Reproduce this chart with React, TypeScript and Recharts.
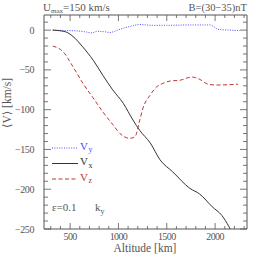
import { LineChart, Line, XAxis, YAxis, Legend } from "recharts";

// altitude [km] / velocity [km/s]
const vxAlt = [320, 450, 530, 630, 740, 840, 940, 1050, 1150, 1220, 1330, 1430, 1560, 1740, 1840, 1970, 2070, 2143, 2165];
const vxVal = [0, -2, -8, -21, -38, -57, -75, -92, -113, -126, -142, -163, -178, -199, -206, -222, -233, -247, -252];

const vyAlt = [320, 450, 570, 650, 726, 780, 850, 912, 970, 1016, 1100, 1223, 1350, 1500, 1710, 1947, 1990, 2030, 2150, 2257];
const vyVal = [0, -0.5, -1, -2, -3.5, -1.5, -2, -3, -1, 1, 4, 7, 6, 6, 6.5, 6.5, 4, 1, 0, -0.5];

const vzAlt = [320, 426, 530, 633, 737, 840, 943, 1016, 1119, 1171, 1223, 1254, 1326, 1398, 1460, 1533, 1636, 1760, 1843, 1926, 2019, 2236];
const vzVal = [-20, -27, -46, -67, -85, -103, -119, -130, -136, -134, -112, -98, -82, -71, -67, -64, -63, -59, -62, -68, -69, -68];

const altTicks = [300, 400, 500, 600, 700, 800, 900, 1000, 1100, 1200, 1300, 1400, 1500, 1600, 1700, 1800, 1900, 2000, 2100, 2200, 2300];
const altLabels = [500, 1000, 1500, 2000];
const vTicks = [-250, -240, -230, -220, -210, -200, -190, -180, -170, -160, -150, -140, -130, -120, -110, -100, -90, -80, -70, -60, -50, -40, -30, -20, -10, 0, 10];
const vLabels = [-250, -200, -150, -100, -50, 0];

const series = [
  { key: "Vy", sub: "y", color: "#4d4dff", dash: "1 1.4", alt: vyAlt, val: vyVal },
  { key: "Vx", sub: "x", color: "#333333", dash: undefined, alt: vxAlt, val: vxVal },
  { key: "Vz", sub: "z", color: "#c03535", dash: "4 2.5", alt: vzAlt, val: vzVal },
];

const toRows = (alt: number[], val: number[]) => alt.map((a, i) => ({ alt: a, v: val[i] }));

const FONT = "'Liberation Serif', 'DejaVu Serif', serif";
const INK = "#555";

const fmt = (v: number) => (v < 0 ? "\u2212" + Math.abs(v) : String(v));

function BottomTick(props: any) {
  const { x, y, payload } = props;
  const major = altLabels.includes(payload.value);
  return (
    <g>
      <line x1={x} y1={y} x2={x} y2={y - (major ? 6 : 3)} stroke={INK} strokeWidth={0.8} />
      {major && (
        <text x={x} y={y + 11} textAnchor="middle" fontSize={10} fontFamily={FONT} fill={INK} letterSpacing={-0.6}>
          {payload.value}
        </text>
      )}
    </g>
  );
}

function TopTick(props: any) {
  const { x, y, payload } = props;
  const major = altLabels.includes(payload.value);
  return <line x1={x} y1={y} x2={x} y2={y + (major ? 6 : 3)} stroke={INK} strokeWidth={0.8} />;
}

function LeftTick(props: any) {
  const { x, y, payload } = props;
  const major = vLabels.includes(payload.value);
  return (
    <g>
      <line x1={x} y1={y} x2={x + (major ? 7 : 4)} y2={y} stroke={INK} strokeWidth={0.8} />
      {major && (
        <text x={x - 10} y={y + 3.5} textAnchor="end" fontSize={10} fontFamily={FONT} fill={INK} letterSpacing={-0.4}>
          {fmt(payload.value)}
        </text>
      )}
    </g>
  );
}

function RightTick(props: any) {
  const { x, y, payload } = props;
  const major = vLabels.includes(payload.value);
  return <line x1={x} y1={y} x2={x - (major ? 7 : 4)} y2={y} stroke={INK} strokeWidth={0.8} />;
}

function LegendBox() {
  return (
    <svg width={60} height={50} style={{ display: "block" }}>
      {series.map((s, i) => {
        const y = 10 + i * 15.5;
        return (
          <g key={s.key}>
            <line x1={2} y1={y} x2={28} y2={y} stroke={s.color} strokeWidth={1} strokeDasharray={s.dash} />
            <text x={30} y={y + 1.5} fontSize={11} fontFamily={FONT} fill={s.color}>V</text>
            <text x={38.5} y={y + 4} fontSize={8} fontFamily={FONT} fill={s.color}>{s.sub}</text>
          </g>
        );
      })}
    </svg>
  );
}

export default function App() {
  return (
    <div style={{ position: "absolute", left: 0, top: 0, width: 258, height: 258, background: "#fff" }}>
      <LineChart width={258} height={258} margin={{ top: 14, right: 10, bottom: 0, left: 0 }}>
        <XAxis
          type="number"
          dataKey="alt"
          domain={[230, 2330]}
          allowDataOverflow
          ticks={altTicks}
          interval={0}
          tickSize={0}
          tickMargin={0}
          height={29}
          tick={BottomTick}
          axisLine={{ stroke: INK }}
        />
        {/* mirrored axes: 1px thick so they are not skipped */}
        <XAxis
          xAxisId="top"
          orientation="top"
          type="number"
          dataKey="alt"
          domain={[230, 2330]}
          allowDataOverflow
          ticks={altTicks}
          interval={0}
          tickSize={0}
          tickMargin={0}
          height={1}
          tick={TopTick}
          axisLine={{ stroke: INK }}
        />
        <YAxis
          type="number"
          domain={[-250, 19]}
          allowDataOverflow
          ticks={vTicks}
          interval={0}
          tickSize={0}
          tickMargin={0}
          width={44}
          tick={LeftTick}
          axisLine={{ stroke: INK }}
        />
        <YAxis
          yAxisId="right"
          orientation="right"
          type="number"
          domain={[-250, 19]}
          allowDataOverflow
          ticks={vTicks}
          interval={0}
          tickSize={0}
          tickMargin={0}
          width={1}
          tick={RightTick}
          axisLine={{ stroke: INK }}
        />
        {series.map((s) => (
          <Line
            key={s.key}
            data={toRows(s.alt, s.val)}
            dataKey="v"
            name={s.key}
            type="monotone"
            stroke={s.color}
            strokeWidth={1}
            strokeDasharray={s.dash}
            dot={false}
            isAnimationActive={false}
          />
        ))}
        <Line
          xAxisId="top"
          yAxisId="right"
          data={toRows(vxAlt, vxVal)}
          dataKey="v"
          stroke="none"
          dot={false}
          legendType="none"
          isAnimationActive={false}
        />
        <Legend
          layout="vertical"
          align="center"
          verticalAlign="middle"
          content={() => <LegendBox />}
          wrapperStyle={{ left: 50, top: 138, width: 60 }}
        />
      </LineChart>
      <svg
        width={258}
        height={258}
        style={{ position: "absolute", left: 0, top: 0, pointerEvents: "none" }}
        fontFamily={FONT}
        fill={INK}
      >
        <text x={43} y={11} fontSize={11}>
          U<tspan fontSize={7} dy={2}>max</tspan>
          <tspan dy={-2}>=150 km/s</tspan>
        </text>
        <text x={247} y={11} fontSize={10.5} textAnchor="end">B=(30{"\u2212"}35)nT</text>
        <text x={145} y={252} fontSize={11.5} textAnchor="middle">Altitude [km]</text>
        <text transform="translate(11,103) rotate(-90)" fontSize={11.5} textAnchor="middle">
          {"\u27E8V\u27E9 [km/s]"}
        </text>
        <text x={52} y={211} fontSize={11}>{"\u03B5=0.1"}</text>
        <text x={95} y={211} fontSize={11}>
          k<tspan fontSize={8} dy={3}>y</tspan>
        </text>
      </svg>
    </div>
  );
}
